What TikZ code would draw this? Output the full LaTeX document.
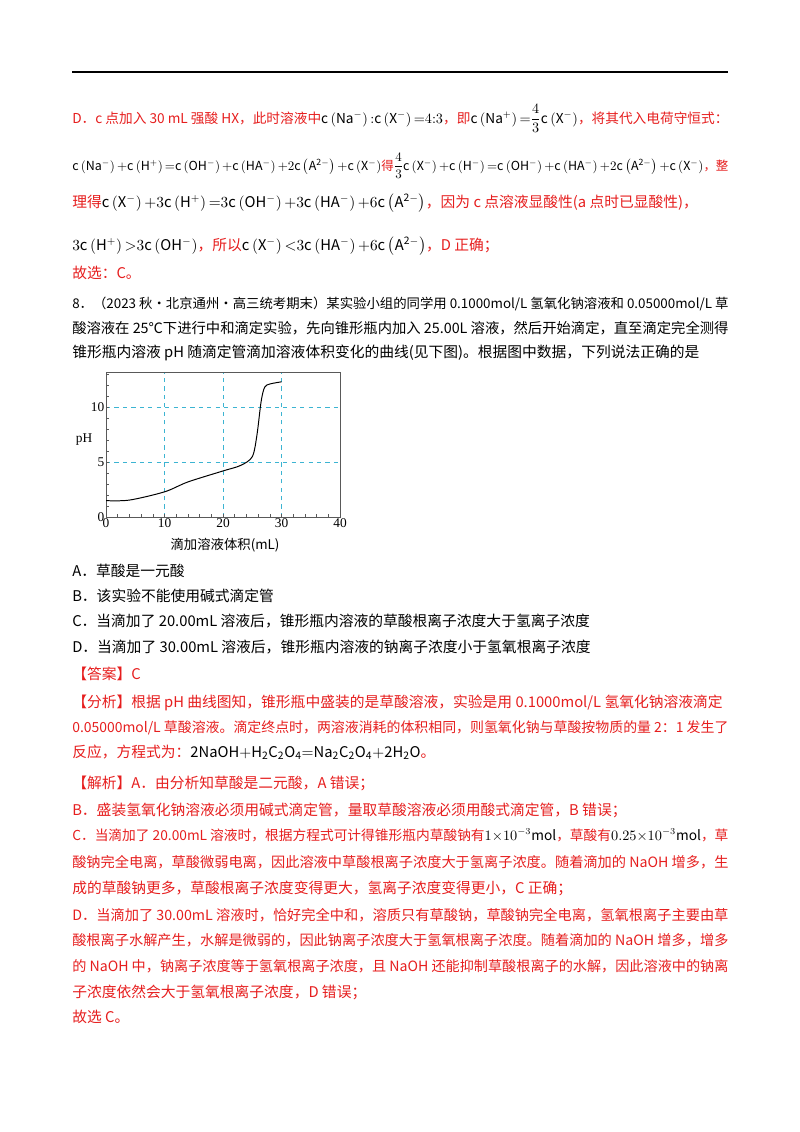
\documentclass[tikz,border=0pt]{standalone}
\usepackage{amsmath}
\usepackage{graphicx}
\usepackage{fontspec}
\setmainfont{Noto Sans CJK SC}
\newfontfamily\serif{Liberation Serif}
\usetikzlibrary{positioning}
\definecolor{ansred}{RGB}{230,30,30}
\definecolor{gridblue}{RGB}{60,180,210}
\tikzset{
  line/.style={anchor=base west, inner sep=0pt, font=\fontsize{10.5}{13}\selectfont},
  redline/.style={line, text=ansred},
  gridline/.style={gridblue, dashed, thick},
  ticklbl/.style={inner sep=1pt, font=\serif\fontsize{9.5}{11}\selectfont}
}
\newcommand{\cc}[1]{\mathrm{c}\left(\mathrm{#1}\right)}
\newsavebox\fitbox
\newcommand{\fitw}[1]{\sbox\fitbox{#1}\ifdim\wd\fitbox>16.4cm\resizebox{16.4cm}{!}{\usebox\fitbox}\else\usebox\fitbox\fi}
\begin{document}
\begin{tikzpicture}[x=0.025cm,y=-0.025cm]
\useasboundingbox (0,0) rectangle (800,1132);
% header rule
\draw[line width=0.8pt] (72,72) -- (728,72);

% part D of previous answer
\node[redline] (l1) at (72,123) {\fitw{D．c 点加入 30 mL 强酸 HX，此时溶液中\textcolor{black}{$\cc{Na^-}{:}\cc{X^-}{=}4{:}3$}，即\textcolor{black}{$\cc{Na^+}{=}\dfrac{4}{3}\cc{X^-}$}，将其代入电荷守恒式：}};
\node[redline] (l2) at (72,170) {\fitw{\textcolor{black}{$\cc{Na^-}{+}\cc{H^+}{=}\cc{OH^-}{+}\cc{HA^-}{+}2\cc{A^{2-}}{+}\cc{X^-}$}得\textcolor{black}{$\dfrac{4}{3}\cc{X^-}{+}\cc{H^-}{=}\cc{OH^-}{+}\cc{HA^-}{+}2\cc{A^{2-}}{+}\cc{X^-}$}，整}};
\node[redline] (l3) at (72,207) {理得\textcolor{black}{$\cc{X^-}{+}3\cc{H^+}{=}3\cc{OH^-}{+}3\cc{HA^-}{+}6\cc{A^{2-}}$}，因为 c 点溶液显酸性(a 点时已显酸性)，};
\node[redline] (l4) at (72,250) {\textcolor{black}{$3\cc{H^+}{>}3\cc{OH^-}$}，所以\textcolor{black}{$\cc{X^-}{<}3\cc{HA^-}{+}6\cc{A^{2-}}$}，D 正确；};
\node[redline] (l5) at (72,278) {故选：C。};

% question 8
\node[line] (q1) at (72,308) {\fitw{8．（2023 秋·北京通州·高三统考期末）某实验小组的同学用 0.1000mol/L 氢氧化钠溶液和 0.05000mol/L 草}};
\node[line] (q2) at (72,333) {\fitw{酸溶液在 25℃下进行中和滴定实验，先向锥形瓶内加入 25.00L 溶液，然后开始滴定，直至滴定完全测得}};
\node[line] (q3) at (72,357) {锥形瓶内溶液 pH 随滴定管滴加溶液体积变化的曲线(见下图)。根据图中数据，下列说法正确的是};

% chart
\begin{scope}[shift={(2.65cm,-12.925cm)}, x=0.14625cm, y=0.275cm]
\draw[gridline] (10,0) -- (10,13.2) (20,0) -- (20,13.2) (30,0) -- (30,13.2);
\draw[gridline] (0,5) -- (40,5) (0,10) -- (40,10);
\draw[gray!70!black] (0,0) rectangle (40,13.2);
\foreach \i in {2,4,...,38} \draw[gray!70!black] (\i,0) -- (\i,0.3);
\foreach \j in {1,...,13} \draw[gray!70!black] (0,\j) -- (0.5,\j);
\foreach \i in {0,10,20,30,40} \node[ticklbl, below] (xt\i) at (\i,0) {\i};
\foreach \j in {0,5,10} \node[ticklbl, left] (yt\j) at (0,\j) {\j};
\draw[line width=0.7pt] plot[smooth, tension=0.5] coordinates {(0,1.5) (4,1.55) (10,2.3) (14,3.2) (20,4.2) (23,4.7) (25,5.5) (25.8,7.5) (26.5,10.5) (27.1,11.8) (28,12.1) (30,12.3)};
\end{scope}
\node[ticklbl] (ph) at (84,440) {pH};
\node[inner sep=0pt, font=\fontsize{9.5}{11}\selectfont] (xlbl) at (225,545) {滴加溶液体积(mL)};

% options
\node[line] (oa) at (72,576) {A．草酸是一元酸};
\node[line] (ob) at (72,601) {B．该实验不能使用碱式滴定管};
\node[line] (oc) at (72,626) {C．当滴加了 20.00mL 溶液后，锥形瓶内溶液的草酸根离子浓度大于氢离子浓度};
\node[line] (od) at (72,652) {D．当滴加了 30.00mL 溶液后，锥形瓶内溶液的钠离子浓度小于氢氧根离子浓度};

% answer
\node[redline] (ans) at (72,679) {【答案】C};
\node[redline] (a1) at (72,707) {\fitw{【分析】根据 pH 曲线图知，锥形瓶中盛装的是草酸溶液，实验是用 0.1000mol/L 氢氧化钠溶液滴定}};
\node[redline] (a2) at (72,732) {\fitw{0.05000mol/L 草酸溶液。滴定终点时，两溶液消耗的体积相同，则氢氧化钠与草酸按物质的量 2：1 发生了}};
\node[redline] (a3) at (72,757) {反应，方程式为：\textcolor{black}{$\mathrm{2NaOH{+}H_2C_2O_4{=}Na_2C_2O_4{+}2H_2O}$}。};
\node[redline] (b1) at (72,788) {【解析】A．由分析知草酸是二元酸，A 错误；};
\node[redline] (b2) at (72,815) {B．盛装氢氧化钠溶液必须用碱式滴定管，量取草酸溶液必须用酸式滴定管，B 错误；};
\node[redline] (b3) at (72,840) {\fitw{C．当滴加了 20.00mL 溶液时，根据方程式可计得锥形瓶内草酸钠有\textcolor{black}{$1{\times}10^{-3}\mathrm{mol}$}，草酸有\textcolor{black}{$0.25{\times}10^{-3}\mathrm{mol}$}，草}};
\node[redline] (b4) at (72,867) {\fitw{酸钠完全电离，草酸微弱电离，因此溶液中草酸根离子浓度大于氢离子浓度。随着滴加的 NaOH 增多，生}};
\node[redline] (b5) at (72,893) {成的草酸钠更多，草酸根离子浓度变得更大，氢离子浓度变得更小，C 正确；};
\node[redline] (b6) at (72,920) {\fitw{D．当滴加了 30.00mL 溶液时，恰好完全中和，溶质只有草酸钠，草酸钠完全电离，氢氧根离子主要由草}};
\node[redline] (b7) at (72,945) {\fitw{酸根离子水解产生，水解是微弱的，因此钠离子浓度大于氢氧根离子浓度。随着滴加的 NaOH 增多，增多}};
\node[redline] (b8) at (72,971) {\fitw{的 NaOH 中，钠离子浓度等于氢氧根离子浓度，且 NaOH 还能抑制草酸根离子的水解，因此溶液中的钠离}};
\node[redline] (b9) at (72,997) {子浓度依然会大于氢氧根离子浓度，D 错误；};
\node[redline] (b10) at (72,1022) {故选 C。};
\end{tikzpicture}
\end{document}
